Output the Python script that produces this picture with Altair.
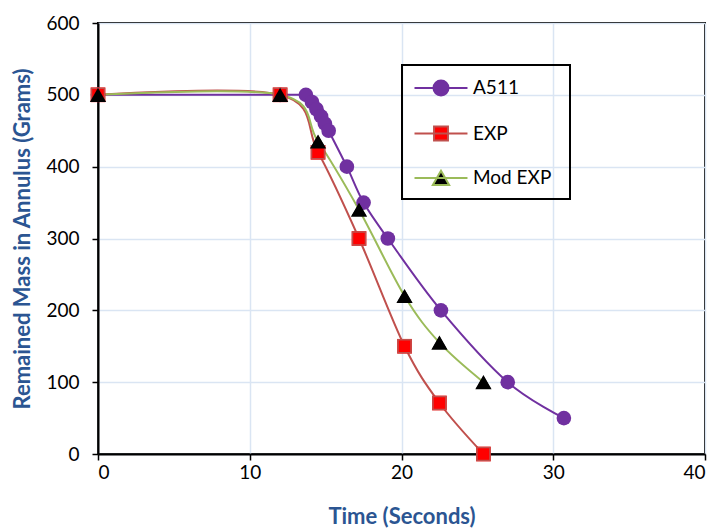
import altair as alt
import pandas as pd

# ---- data ----
series_names = ["A511", "EXP", "Mod EXP"]

a511_time = [0, 12, 13.7, 14.1, 14.4, 14.7, 14.95, 15.2, 16.4, 17.5, 19.1, 22.6, 27.0, 30.7]
a511_mass = [500, 500, 500, 490, 480, 470, 460, 450, 400, 350, 300, 200, 100, 50]

exp_time = [0, 12, 14.5, 17.2, 20.2, 22.5, 25.4]
exp_mass = [500, 500, 420, 300, 150, 71, 0]

mod_time = [0, 12, 14.5, 17.2, 20.2, 22.5, 25.4]
mod_mass = [500, 500, 435, 340, 220, 155, 100]

x_ticks = [0, 10, 20, 30, 40]
y_ticks = [0, 100, 200, 300, 400, 500, 600]

line_colors = ["#7030A0", "#C0504D", "#9BBB59"]
fill_colors = ["#7030A0", "#FF0000", "#000000"]
# shape scale listed in another order so that its (hidden) legend is not merged
shape_domain = ["Mod EXP", "EXP", "A511"]
shape_range = ["triangle-up", "square", "circle"]

rows = []
for name, ts, ms in [("A511", a511_time, a511_mass), ("EXP", exp_time, exp_mass), ("Mod EXP", mod_time, mod_mass)]:
    for i, (t, m) in enumerate(zip(ts, ms)):
        rows.append({"series": name, "t": t, "m": m, "order": i})
df = pd.DataFrame(rows)

# legend symbols: line segment + marker (custom paths)
cx = 1.333
p_circle = (f"M-0.875,0L3.54,0M{cx-0.625:.3f},0A0.625,0.625,0,1,0,{cx+0.625:.3f},0"
            f"A0.625,0.625,0,1,0,{cx-0.625:.3f},0ZM10.9,0")
p_square = (f"M-0.875,0L3.54,0M{cx-0.58:.3f},-0.58L{cx+0.58:.3f},-0.58L{cx+0.58:.3f},0.58"
            f"L{cx-0.58:.3f},0.58ZM10.9,0")
p_tri = (f"M-0.875,0L3.54,0M{cx:.3f},-0.6L{cx+0.68:.3f},0.58L{cx-0.68:.3f},0.58ZM10.9,0")
sym_expr = (f"datum.value === 'A511' ? '{p_circle}' : datum.value === 'EXP' ? '{p_square}' : '{p_tri}'")

legend = alt.Legend(
    title=None,
    orient="none",
    legendX=304,
    legendY=42,
    symbolType=alt.ExprRef(expr=sym_expr),
    symbolSize=576,
    symbolStrokeWidth=2,
    labelFont="Lato",
    labelFontSize=19,
    labelColor="black",
    labelOffset=35,
    padding=10,
    rowPadding=20.5,
    strokeColor="black",
)

title_color = "#2B5592"

x_enc = alt.X("t:Q", scale=alt.Scale(domain=[0, 40], nice=False),
              axis=alt.Axis(values=x_ticks, title="Time (Seconds)", titlePadding=24))
y_enc = alt.Y("m:Q", scale=alt.Scale(domain=[0, 600], nice=False),
              axis=alt.Axis(values=y_ticks, title="Remained Mass in Annulus (Grams)", titlePadding=11))

base = alt.Chart(df)

lines = base.mark_line(interpolate="cardinal", strokeWidth=2).encode(
    x=x_enc, y=y_enc,
    stroke=alt.Stroke("series:N", scale=alt.Scale(domain=series_names, range=line_colors), legend=legend),
    order="order:Q",
    detail="series:N",
)

points = base.mark_point(filled=True, size=215, opacity=1).encode(
    x=x_enc, y=y_enc,
    fill=alt.Fill("series:N", scale=alt.Scale(domain=series_names, range=fill_colors), legend=legend),
    shape=alt.Shape("series:N", scale=alt.Scale(domain=shape_domain, range=shape_range), legend=None),
)

mod_points = base.transform_filter(alt.datum.series == "Mod EXP").mark_point(
    shape="triangle-up", filled=True, size=265, fill="#000000", opacity=1
).encode(x=x_enc, y=y_enc)

exp_points = base.transform_filter(alt.datum.series == "EXP").mark_point(
    shape="square", filled=True, size=170, fill="#FF0000", stroke="#C0504D", strokeWidth=1.5, opacity=1
).encode(x=x_enc, y=y_enc)

chart = alt.layer(lines, points, exp_points, mod_points).properties(
    width=607,
    height=431,
    autosize=alt.AutoSizeParams(type="none"),
    padding={"left": 90, "top": 15, "right": 5, "bottom": 76},
).configure_view(
    stroke="black", strokeWidth=2
).configure_axis(
    grid=True,
    gridColor="#DAE5F3",
    gridWidth=1.5,
    domainColor="black",
    domainWidth=2,
    tickColor="black",
    tickWidth=1.5,
    tickSize=6,
    labelFont="Lato",
    labelFontSize=19,
    labelColor="black",
    labelPadding=3,
    titleFont="Lato",
    titleFontSize=22,
    titleFontWeight="bold",
    titleColor=title_color,
).configure_axisY(
    labelPadding=13,
).configure_legend(
    strokeWidth=2,
)

chart.save("out.html", embed_options={"renderer": "svg", "actions": False})
